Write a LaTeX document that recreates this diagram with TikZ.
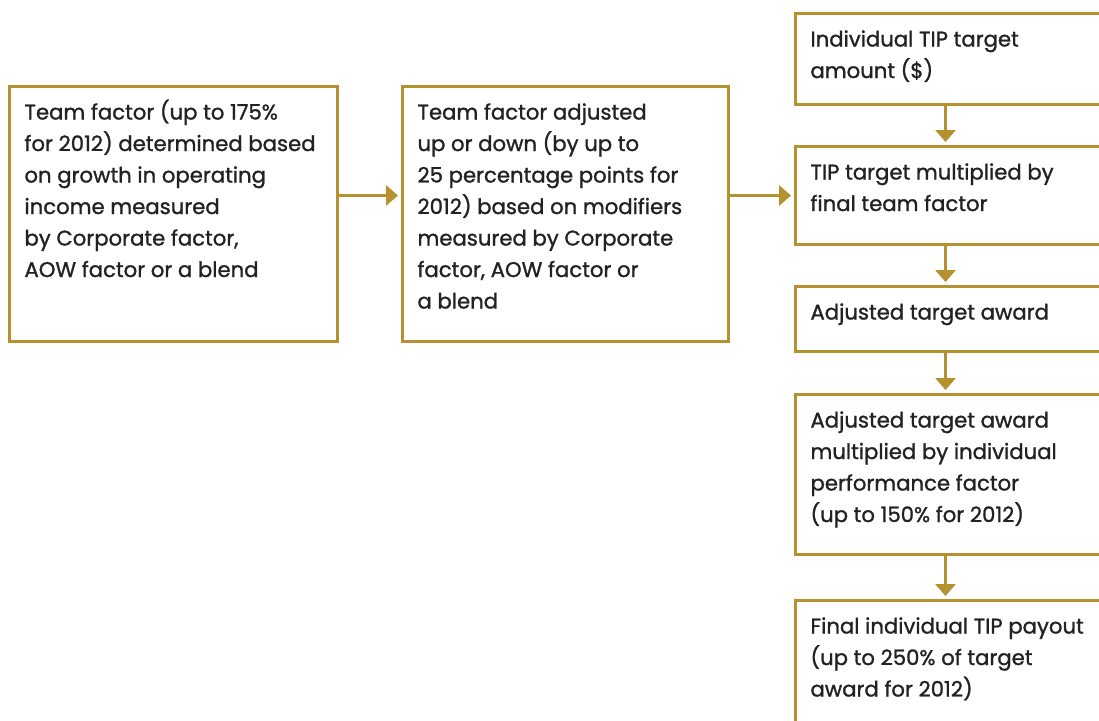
\documentclass[tikz,border=0pt]{standalone}
\usepackage{fontspec}
\setmainfont{Poppins}[FakeBold=1.2]
\usetikzlibrary{arrows.meta}
\definecolor{tipgold}{RGB}{181,145,48}
\definecolor{tiptext}{RGB}{34,34,34}
\newcommand{\boxtext}[3]{\parbox[c][#2][t]{#1}{\raggedright\leftskip=7.5pt\rule{0pt}{16.5pt}#3}}
\begin{document}
\begin{tikzpicture}[x=0.5pt,y=-0.5pt,
    stepbox/.style={draw=tipgold, line width=1.5pt, inner sep=0pt, anchor=north west,
      text=tiptext, font=\fontsize{10.6}{15.75}\selectfont},
    flowarrow/.style={draw=tipgold, line width=1.5pt, -{Triangle[width=10pt,length=6pt]}, shorten >=1.5pt}]
  \useasboundingbox (0,0) rectangle (1099,720);
  \clip (0,0) rectangle (1099,720);
  % left part
  \node[stepbox] (team) at (8,85) {\boxtext{164pt}{127.5pt}{Team factor (up to 175\%\\
    for 2012) determined based\\ on growth in operating\\ income measured\\
    by Corporate factor,\\ AOW factor or a blend}};
  \node[stepbox] (adjust) at (401,85) {\boxtext{163pt}{127.5pt}{Team factor adjusted\\
    up or down (by up to\\ 25 percentage points for\\ 2012) based on modifiers\\
    measured by Corporate\\ factor, AOW factor or\\ a blend}};
  % right column
  \node[stepbox] (target) at (794,12) {\boxtext{160pt}{45.5pt}{Individual TIP target\\ amount (\$)}};
  \node[stepbox] (multiply) at (794,145) {\boxtext{160pt}{49pt}{TIP target multiplied by\\ final team factor}};
  \node[stepbox] (award) at (794,285) {\boxtext{160pt}{32.5pt}{Adjusted target award}};
  \node[stepbox] (perform) at (794,393) {\boxtext{160pt}{80pt}{Adjusted target award\\
    multiplied by individual\\ performance factor\\ (up to 150\% for 2012)}};
  \node[stepbox] (payout) at (794,599) {\boxtext{160pt}{75pt}{Final individual TIP payout\\
    (up to 250\% of target\\ award for 2012)}};
  \begin{scope}[flowarrow]
    \draw (team.east |- multiply.west) -- (adjust.west |- multiply.west);
    \draw (adjust.east |- multiply.west) -- (multiply.west);
    \draw ([xshift=-5pt]target.south) -- ([xshift=-5pt]multiply.north);
    \draw ([xshift=-5pt]multiply.south) -- ([xshift=-5pt]award.north);
    \draw ([xshift=-5pt]award.south) -- ([xshift=-5pt]perform.north);
    \draw ([xshift=-5pt]perform.south) -- ([xshift=-5pt]payout.north);
  \end{scope}
\end{tikzpicture}
\end{document}
